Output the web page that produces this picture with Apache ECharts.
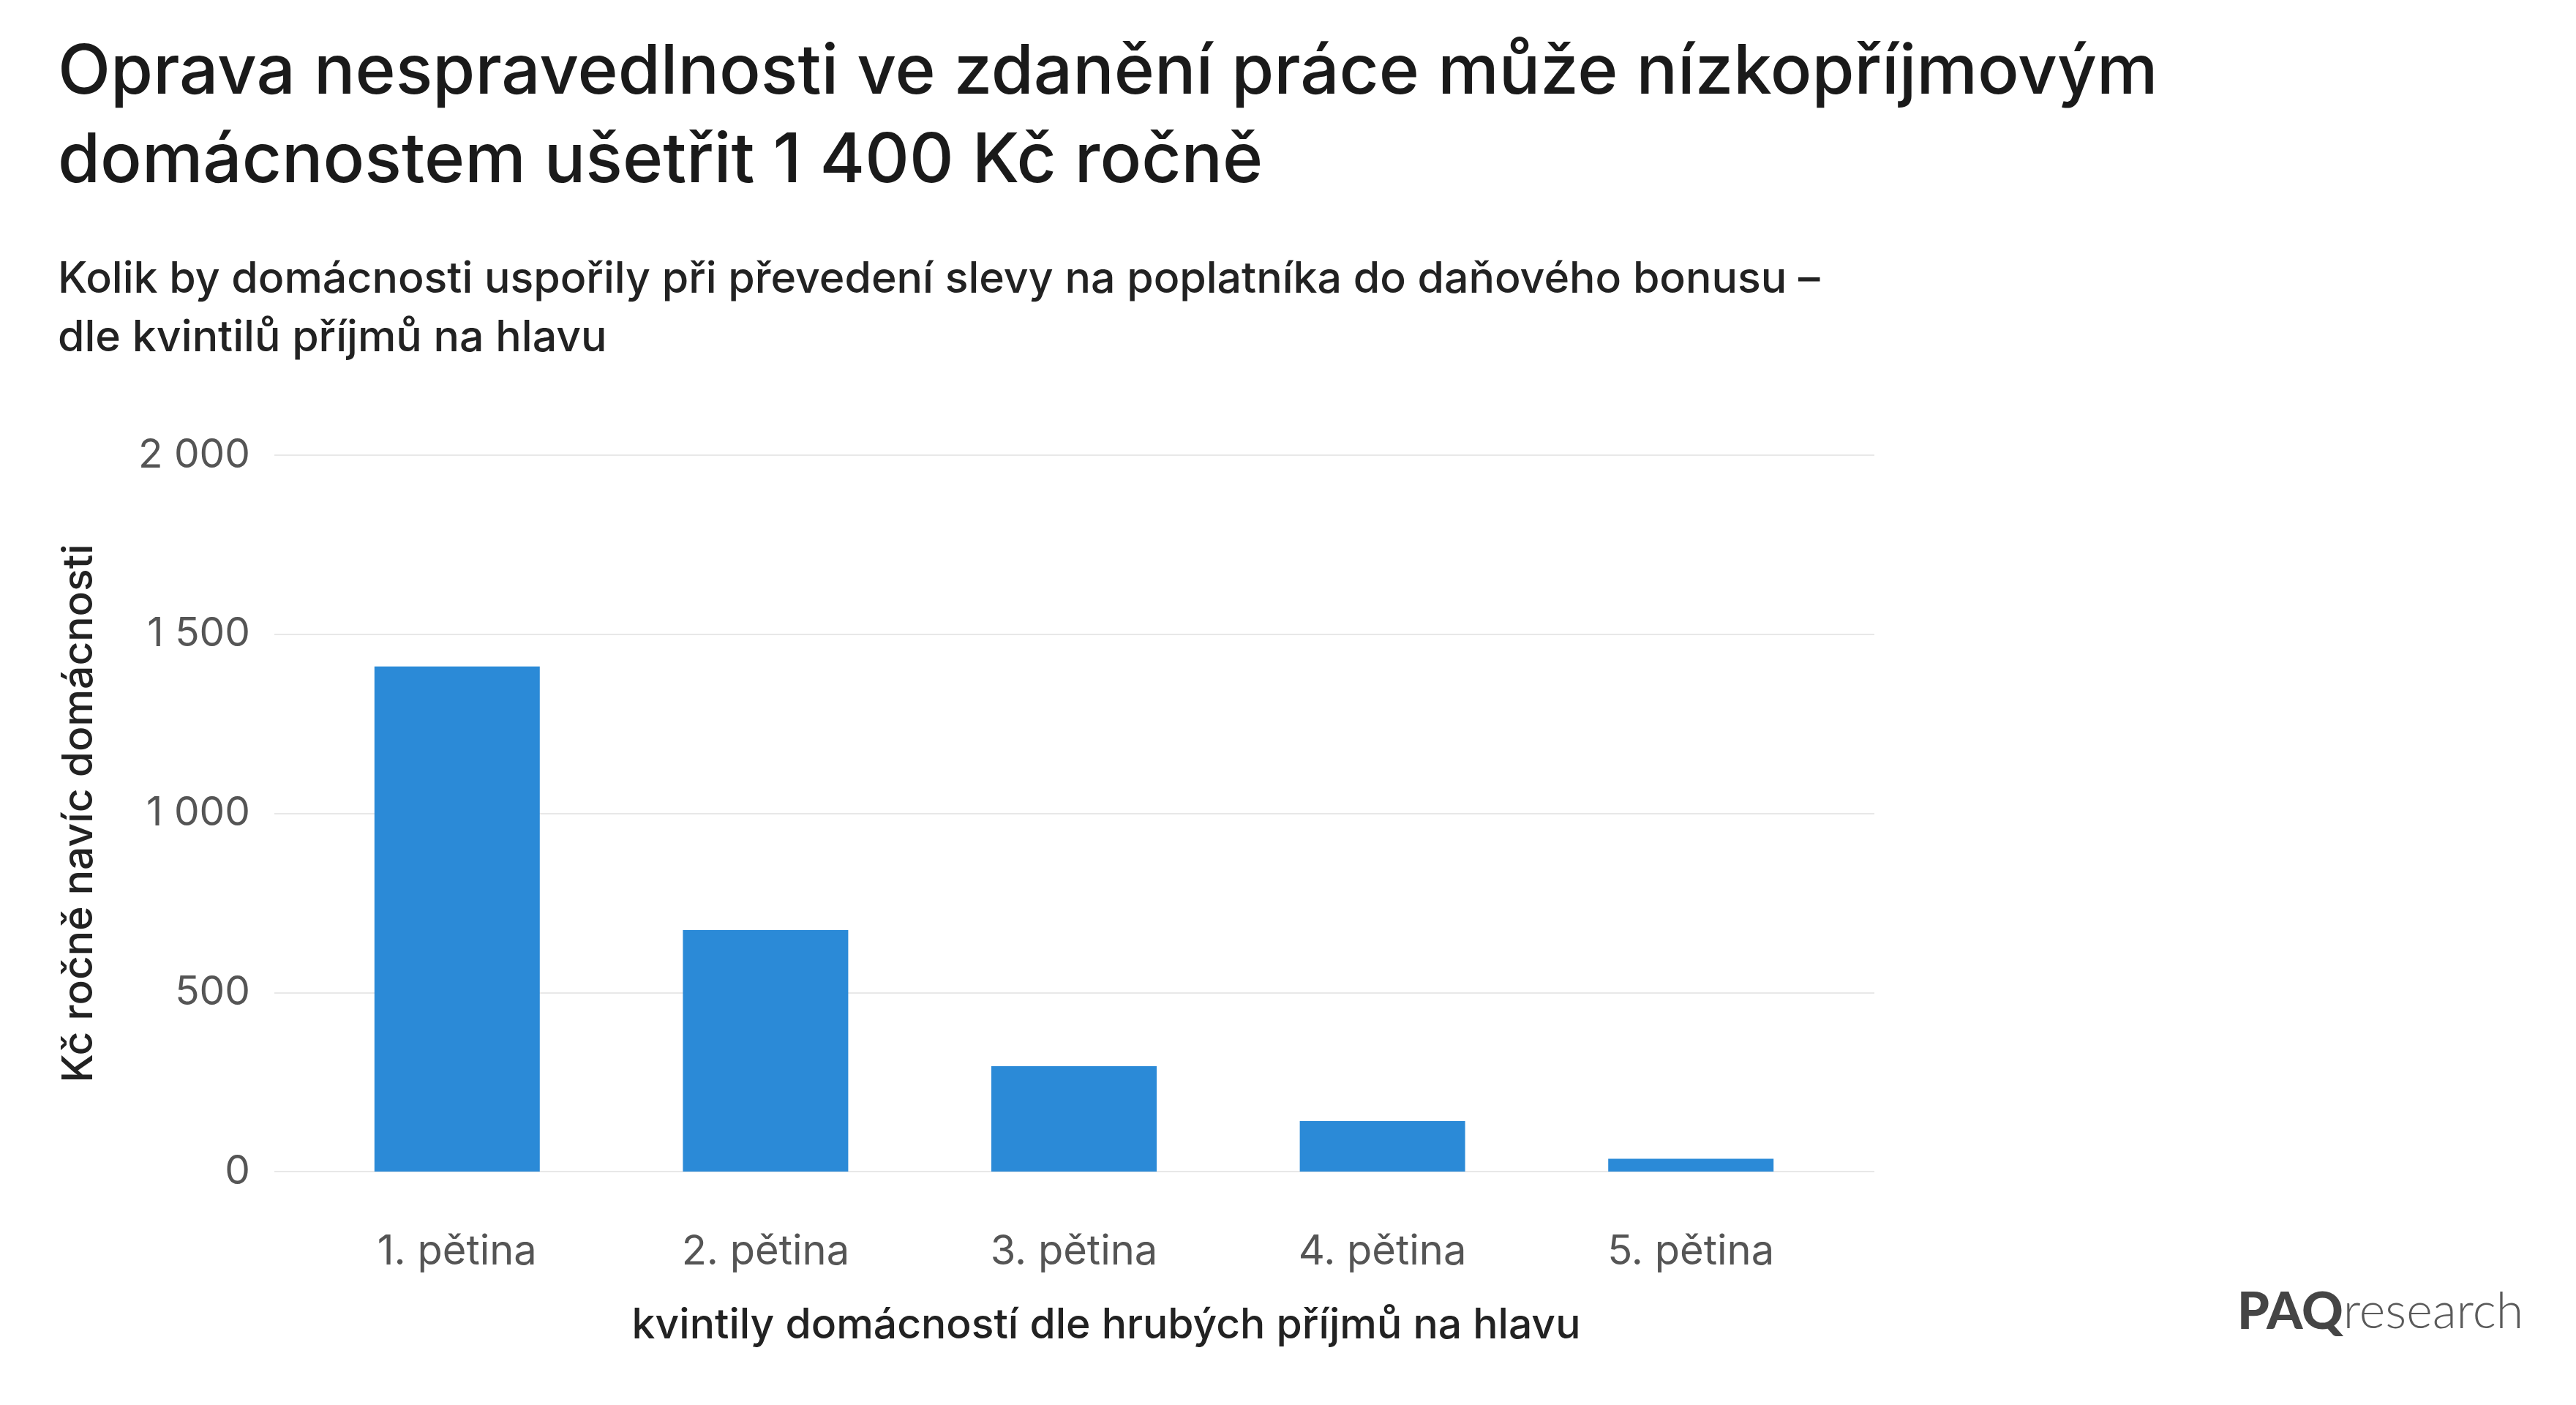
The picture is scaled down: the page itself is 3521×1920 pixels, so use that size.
<!DOCTYPE html>
<html>
<head>
<meta charset="utf-8">
<script src="https://cdn.jsdelivr.net/npm/echarts@6/dist/echarts.min.js"></script>
<style>
html,body{margin:0;padding:0;background:#fff;}
#c{width:3521px;height:1920px;}
</style>
</head>
<body>
<div id="c"></div>
<script>
const titleText = 'Oprava nespravedlnosti ve zdanění práce může nízkopříjmovým\ndomácnostem ušetřit 1 400 Kč ročně';
const subtitleText = 'Kolik by domácnosti uspořily při převedení slevy na poplatníka do daňového bonusu –\ndle kvintilů příjmů na hlavu';
const categories = ['1. pětina', '2. pětina', '3. pětina', '4. pětina', '5. pětina'];
const values = [1410, 674, 294, 141, 36];
const yTicks = [0, 500, 1000, 1500, 2000];
const yAxisName = 'Kč ročně navíc domácnosti';
const xAxisName = 'kvintily domácností dle hrubých příjmů na hlavu';

const FONT = 'Inter, "Noto Sans", Roboto, sans-serif';
const fmt = v => String(v).replace(/\B(?=(\d{3})+(?!\d))/g, ' ');

const chart = echarts.init(document.getElementById('c'), null, {renderer: 'canvas'});
chart.setOption({
  backgroundColor: '#ffffff',
  animation: false,
  title: [
    {text: titleText, left: 74, top: 34,
     textStyle: {fontFamily: FONT, fontSize: 94, fontWeight: 500, color: '#1a1a1a', lineHeight: 121}},
    {text: subtitleText, left: 74, top: 337,
     textStyle: {fontFamily: FONT, fontSize: 59, fontWeight: 500, color: '#222', lineHeight: 80}}
  ],
  grid: [
    {left: 375, right: 959, top: 622, bottom: 319},
    {left: 414, right: 999, top: 622, bottom: 319}
  ],
  xAxis: [
    {gridIndex: 0, type: 'value', show: false, min: 0, max: 1},
    {gridIndex: 1, type: 'category', data: categories,
     axisLine: {show: false}, axisTick: {show: false},
     axisLabel: {fontFamily: FONT, fontSize: 56, color: '#555', margin: 82},
     name: xAxisName, nameLocation: 'middle', nameGap: 182,
     nameTextStyle: {fontFamily: FONT, fontSize: 57, fontWeight: 500, color: '#222', padding: [0, 0, 0, 88]}}
  ],
  yAxis: [
    {gridIndex: 0, type: 'value', min: yTicks[0], max: yTicks[yTicks.length - 1], interval: 500,
     axisLine: {show: false}, axisTick: {show: false},
     splitLine: {lineStyle: {color: '#e8e8e8', width: 2}},
     axisLabel: {fontFamily: FONT, fontSize: 55, color: '#555', margin: 33, formatter: v => fmt(v)},
     name: yAxisName, nameLocation: 'middle', nameGap: 238, nameRotate: 90,
     nameTextStyle: {fontFamily: FONT, fontSize: 57, fontWeight: 500, color: '#222'}},
    {gridIndex: 1, type: 'value', min: yTicks[0], max: yTicks[yTicks.length - 1], show: false}
  ],
  series: [
    {type: 'bar', xAxisIndex: 1, yAxisIndex: 1, data: values, barWidth: '53.6%',
     itemStyle: {color: '#2b8ad7'}}
  ],
  graphic: [
    {type: 'text', left: 3058, top: 1758,
     style: {text: '{a|PAQ}{b|research}', rich: {
       a: {fontFamily: 'Lato, Inter, sans-serif', fontSize: 70, fontWeight: 900, fill: '#454545'},
       b: {fontFamily: 'Lato, Inter, sans-serif', fontSize: 68, fontWeight: 300, fill: '#5a5a5a'}
     }}}
  ]
});
</script>
</body>
</html>
